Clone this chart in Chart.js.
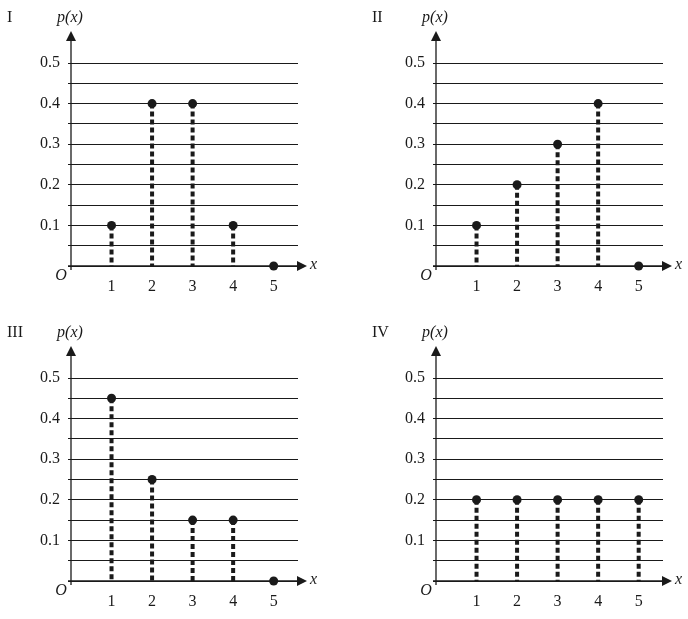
<!DOCTYPE html>
<html>
<head>
<meta charset="utf-8">
<script src="https://cdn.jsdelivr.net/npm/chart.js@4.4.1/dist/chart.umd.min.js"></script>
<style>
	body { margin: 0; background: #fff; }
	#wrap { position: relative; width: 688px; height: 619px; }
	canvas { position: absolute; }
</style>
</head>
<body>
<div id="wrap">
	<canvas id="c1" width="323" height="315" style="left:0;top:0"></canvas>
	<canvas id="c2" width="323" height="315" style="left:365px;top:0"></canvas>
	<canvas id="c3" width="323" height="304" style="left:0;top:315px"></canvas>
	<canvas id="c4" width="323" height="304" style="left:365px;top:315px"></canvas>
</div>
<script>
const xValues = [1, 2, 3, 4, 5];
const probI = [0.1, 0.4, 0.4, 0.1, 0];
const probII = [0.1, 0.2, 0.3, 0.4, 0];
const probIII = [0.45, 0.25, 0.15, 0.15, 0];
const probIV = [0.2, 0.2, 0.2, 0.2, 0.2];
const panelNames = ['I', 'II', 'III', 'IV'];
const yLabels = ['0.1', '0.2', '0.3', '0.4', '0.5'];

const ink = '#1a1a1a';
const serif = "'Liberation Serif', 'DejaVu Serif', serif";
Chart.defaults.font.family = serif;
Chart.defaults.font.size = 16;
Chart.defaults.color = ink;

// axis arrows, p(x), x, O and the panel name
const axesPlugin = {
	id: 'axes',
	beforeDatasetsDraw(chart, args, opts) {
		const ctx = chart.ctx;
		const a = chart.chartArea;
		ctx.save();
		ctx.strokeStyle = ink;
		ctx.fillStyle = ink;
		ctx.lineWidth = 1.3;
		// y axis
		ctx.beginPath();
		ctx.moveTo(a.left, a.bottom + 4);
		ctx.lineTo(a.left, a.top - 23);
		ctx.stroke();
		ctx.beginPath();
		ctx.moveTo(a.left, a.top - 32);
		ctx.lineTo(a.left - 5, a.top - 22);
		ctx.lineTo(a.left + 5, a.top - 22);
		ctx.closePath();
		ctx.fill();
		// x axis
		ctx.beginPath();
		ctx.moveTo(a.left - 3, a.bottom);
		ctx.lineTo(a.right, a.bottom);
		ctx.stroke();
		ctx.beginPath();
		ctx.moveTo(a.right + 9, a.bottom);
		ctx.lineTo(a.right - 1, a.bottom - 5);
		ctx.lineTo(a.right - 1, a.bottom + 5);
		ctx.closePath();
		ctx.fill();

		ctx.font = 'italic 16px ' + serif;
		ctx.textBaseline = 'alphabetic';
		ctx.textAlign = 'left';
		ctx.fillText('x', a.right + 12, a.bottom + 3);
		ctx.textAlign = 'center';
		ctx.fillText('p(x)', a.left - 1, a.top - 41);
		ctx.fillText('O', a.left - 10, a.bottom + 14);
		ctx.font = '16px ' + serif;
		ctx.textAlign = 'left';
		ctx.fillText(opts.name, 7, a.top - 41);
		ctx.restore();
	}
};

function makePanel(id, name, probs) {
	const canvas = document.getElementById(id);
	const stems = [];
	xValues.forEach((x, i) => {
		if (probs[i] > 0) {
			stems.push({
				type: 'line',
				data: [{x: x, y: probs[i]}, {x: x, y: 0}],
				borderColor: ink,
				borderWidth: 4,
				borderDash: [5, 3],
				pointRadius: 0,
				clip: false
			});
		}
	});
	new Chart(canvas, {
		type: 'scatter',
		data: {
			datasets: stems.concat([{
				data: xValues.map((x, i) => ({x: x, y: probs[i]})),
				backgroundColor: ink,
				borderWidth: 0,
				pointRadius: 4.5,
				showLine: false,
				clip: false
			}])
		},
		options: {
			responsive: false,
			animation: false,
			layout: {
				padding: {top: 63, left: 0, right: 25, bottom: canvas.height - 310}
			},
			plugins: {
				legend: {display: false},
				tooltip: {enabled: false},
				axes: {name: name}
			},
			scales: {
				x: {
					type: 'linear',
					min: 0,
					max: 5.6,
					afterFit: s => { s.height = 44; },
					afterBuildTicks: s => { s.ticks = xValues.map(v => ({value: v})); },
					grid: {display: false},
					border: {display: false},
					ticks: {
						autoSkip: false,
						maxRotation: 0,
						padding: 3,
						callback: v => String(v)
					}
				},
				y: {
					min: 0,
					max: 0.5,
					afterFit: s => { s.width = 71; },
					grid: {color: ink, lineWidth: 1, tickLength: 3},
					border: {display: false},
					ticks: {
						stepSize: 0.05,
						autoSkip: false,
						padding: 8,
						callback: v => yLabels.find(l => Math.abs(Number(l) - v) < 1e-6) || ''
					}
				}
			}
		},
		plugins: [axesPlugin]
	});
}

makePanel('c1', panelNames[0], probI);
makePanel('c2', panelNames[1], probII);
makePanel('c3', panelNames[2], probIII);
makePanel('c4', panelNames[3], probIV);
</script>
</body>
</html>
